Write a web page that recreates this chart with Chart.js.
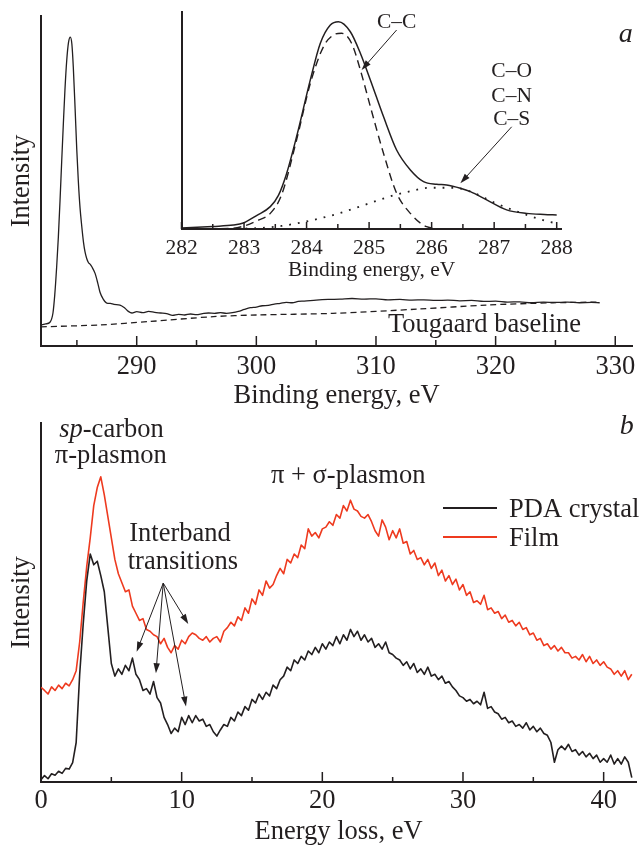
<!DOCTYPE html>
<html>
<head>
<meta charset="utf-8">
<script src="https://cdn.jsdelivr.net/npm/chart.js@4.4.1/dist/chart.umd.min.js"></script>
<style>
  body { margin: 0; background: #fff; }
  .panel { position: absolute; }
</style>
</head>
<body>
<div class="panel" style="left:0;top:0;width:642px;height:420px"><canvas id="mainChart"></canvas></div>
<div class="panel" style="left:140px;top:0;width:440px;height:290px"><canvas id="insetChart"></canvas></div>
<div class="panel" style="left:0;top:400px;width:642px;height:452px"><canvas id="lossChart"></canvas></div>
<script>
// Panel a: C 1s spectrum
const xpsEnergy = [282.0, 282.4, 282.75, 283.0, 283.15, 283.31, 283.45, 283.59, 283.73, 283.87, 284.0, 284.15, 284.3, 284.45, 284.58, 284.7, 284.85, 284.99, 285.12, 285.26, 285.4, 285.55, 285.68, 285.82, 285.96, 286.1, 286.25, 286.52, 286.75, 286.94, 287.2, 287.5, 287.8, 288.1, 288.6, 289.0, 289.3, 289.6, 290.0, 290.5, 291.0, 291.5, 292.0, 292.5, 293.0, 293.5, 294.0, 294.5, 295.0, 295.5, 296.0, 296.5, 297.0, 297.5, 298.0, 298.5, 299.0, 299.5, 300.0, 300.5, 301.0, 301.5, 302.0, 302.5, 303.0, 303.5, 304.0, 305.0, 306.0, 307.0, 308.0, 309.0, 310.0, 311.0, 312.0, 313.0, 314.0, 315.0, 316.0, 317.0, 318.0, 319.0, 320.0, 321.0, 322.0, 323.0, 324.0, 325.0, 326.0, 327.0, 328.0, 328.7];
const xpsIntensity = [6.4, 6.7, 7.2, 10, 15.5, 24, 33, 44, 56, 67.5, 77.5, 86.5, 92, 93.6, 91.5, 84.5, 72, 59.5, 50, 42, 36.5, 31.5, 28.5, 26.5, 25.3, 24.8, 24, 22, 19, 16.2, 14.2, 13, 12.9, 12.6, 12.4, 11.5, 10.5, 10, 10.4, 10.1, 10.5, 10.2, 10, 9.8, 9.3, 9.6, 9.4, 9.7, 9.5, 9.8, 10, 9.9, 10.1, 9.9, 10.1, 10.5, 11.1, 11.6, 11.8, 12.2, 12.3, 12.7, 12.9, 13.2, 13.1, 13.5, 13.6, 13.9, 14.1, 14.2, 14.4, 14.2, 14.3, 14.0, 14.1, 13.9, 14.0, 13.8, 13.9, 13.7, 13.8, 13.5, 13.6, 13.3, 13.4, 13.1, 13.3, 13.2, 13.3, 13.1, 13.2, 13.1];
const baselineEnergy = [282, 287, 291, 296.4, 300, 306.4, 313.6, 319.2, 324.8, 328.7];
const baselineIntensity = [5.8, 6.4, 7.4, 8.9, 9.4, 9.9, 11.2, 12.4, 13.1, 13.3];
const mainTicks = [285, 290, 295, 300, 305, 310, 315, 320, 325, 330];

// Inset: fit of the C 1s peak
const fitEnergy = [282.0, 282.5, 282.83, 283.0, 283.2, 283.42, 283.55, 283.68, 283.84, 284.06, 284.22, 284.38, 284.51, 284.7, 284.86, 285.02, 285.23, 285.44, 285.66, 285.87, 286.08, 286.24, 286.46, 286.62, 286.88, 287.2, 287.52, 287.8, 288.0];
const fitEnvelope = [0.5, 1.2, 1.8, 2.9, 6.2, 10.3, 15.5, 25.5, 42.5, 68.7, 85.6, 94, 95.5, 90.9, 81, 68.7, 51.8, 36.4, 27.2, 21.8, 20.6, 20.3, 18.8, 17.2, 13.4, 8.8, 7.2, 6.7, 6.5];
const ccEnergy = [282.0, 282.8, 283.0, 283.2, 283.42, 283.6, 283.84, 284.06, 284.27, 284.43, 284.56, 284.72, 284.86, 285.02, 285.23, 285.44, 285.66, 285.92, 286.24, 288.0];
const ccIntensity = [0, 0.3, 1.4, 3.7, 7.2, 15.7, 41, 67.1, 84, 89.4, 90.2, 85.6, 73.3, 56.4, 34.9, 16.5, 7.2, 1.1, 0, 0];
const coEnergy = [282.6, 283.0, 283.3, 283.6, 283.95, 284.48, 285.02, 285.3, 285.6, 285.98, 286.35, 286.6, 287.03, 287.42, 287.84, 288.0];
const coIntensity = [0, 0.2, 0.5, 1.4, 3.2, 6.9, 12, 14.7, 17, 19, 19, 17.5, 11.8, 7.5, 3.6, 2.6];
const insetTicks = [282, 282.5, 283, 283.5, 284, 284.5, 285, 285.5, 286, 286.5, 287, 287.5, 288];

// Panel b: energy loss spectra, one value every 0.25 eV from 0 to 42 eV
const lossStep = 0.25;
const crystalLoss = [
  0.6, 1.8, 0.9, 2.3, 1.9, 3.0, 2.4, 3.8,
  3.6, 5.4, 11, 30, 44, 56, 63.5, 60.5,
  61.5, 57.5, 53, 43, 33, 29.5, 31.5, 30,
  32.5, 31, 34.5, 30, 28.5, 25.5, 26, 24.5,
  28, 23.5, 22, 18, 16, 13.5, 15, 14,
  18, 16, 18.5, 16.5, 18.5, 17, 17.5, 15.5,
  16, 14, 12.8, 14.5, 16, 15.5, 18, 17,
  19.5, 18.5, 21, 20, 23, 22, 24.5, 23,
  25, 24, 27, 26, 28.5, 29.5, 32, 31,
  34, 33, 35, 34, 36.5, 35.5, 37.5, 36,
  38.5, 37, 39, 38, 40.5, 38.5, 41, 39.5,
  42.5, 40.5, 42, 39.5, 41, 39, 40, 37.5,
  38.5, 37, 39, 36, 35.5, 34.5, 34, 32.5,
  33.5, 31.5, 33, 30.5, 31.5, 30, 32, 29.5,
  30, 28.5, 29.5, 27.5, 28, 26.5, 25.5, 24,
  23.5, 22.5, 23, 21.8, 22.5, 21.5, 25, 20.5,
  21, 19.5, 19, 17.5, 18, 16.5, 17, 15.5,
  16, 15, 16.5, 14.5, 15.5, 14, 15, 13.5,
  13, 11, 5.5, 9, 10, 9, 10.5, 8.5,
  9, 7.5, 8.5, 7, 8, 6.5, 7.5, 5.5,
  6.5, 5.5, 7.5, 5, 6.5, 5, 7, 5.5,
  1.2
];
const filmLoss = [
  26.4, 25.5, 24.5, 26.5, 25.5, 27, 26, 27.5,
  26.8, 28.5, 31, 39, 50, 60, 68, 77,
  82, 85, 80, 74, 68, 62, 58, 55.5,
  53, 53.5, 49, 47, 45, 45.5, 42.5, 42,
  41, 40.5, 38.5, 40, 37.5, 36, 38, 37,
  39.5, 38.5, 40.5, 41.5, 41, 40, 39.5, 40.5,
  39, 40, 40.5, 39, 42, 43, 44.5, 43.5,
  46, 45, 48.5, 47, 51, 49.5, 53.5, 52,
  56, 54, 55, 57.5, 59.5, 58, 62, 61,
  63.5, 62.5, 66, 65, 70.5, 68.5, 69.5, 68,
  70.5, 71, 72.5, 71.5, 74.5, 73.5, 77, 75.5,
  78.5, 76, 75.5, 74, 73.5, 74.5, 72.5, 70,
  68.5, 73, 71, 67.5, 70, 68, 70.5, 66.5,
  67, 63.5, 64.5, 62, 62.5, 60.5, 62, 59.5,
  61, 57.5, 59, 56, 57.5, 55, 56.5, 53.5,
  55, 52, 53, 50, 50.5, 49.5, 52, 48,
  48.5, 47, 47.5, 45.5, 46.5, 44.5, 45, 43.5,
  44.5, 42.5, 43, 41, 41.5, 39.5, 40, 38,
  38.5, 37, 38, 36.5, 37.5, 36, 36, 34.5,
  35, 34, 35.5, 33.5, 35, 33, 34, 32.5,
  33.5, 32, 31.5, 30, 31, 29.5, 31, 28.5,
  30
];
const lossTicks = [0, 5, 10, 15, 20, 25, 30, 35, 40];

const serif = "'Liberation Serif', 'Times New Roman', serif";
const ink = '#231f20';
const red = '#ee3a1f';
const big = 26.5;
const small = 21.5;
Chart.defaults.font.family = serif;
Chart.defaults.color = ink;

const pts = (xs, ys) => xs.map((x, i) => ({ x, y: ys[i] }));
const lossEnergy = crystalLoss.map((_, i) => i * lossStep);

function axisX(min, max, ticks, showLabel, title, size, pad, titlePad, height) {
    return {
        type: 'linear', min, max,
        afterBuildTicks: s => { s.ticks = ticks.map(v => ({ value: v })); },
        afterFit: s => { s.height = height; },
        grid: { display: false, drawTicks: false },
        border: { display: true, color: ink, width: 2 },
        ticks: { padding: pad, font: { size }, color: ink, maxRotation: 0, autoSkip: false,
                 callback: v => showLabel(v) ? String(v) : '' },
        title: { display: true, text: title, font: { size }, color: ink, padding: { top: 0, bottom: titlePad } }
    };
}

function axisY(title, size, titlePad, width) {
    return {
        type: 'linear', min: 0, max: 100,
        afterFit: s => { s.width = width; },
        grid: { display: false, drawTicks: false },
        border: { display: true, color: ink, width: 2 },
        ticks: { display: false },
        title: { display: !!title, text: title || '', font: { size }, color: ink, padding: { top: titlePad, bottom: 0 } }
    };
}

// tick marks pointing into the plot
function tickMarks(major, minor, majorLen, minorLen) {
    return {
        id: 'tickMarks',
        afterDraw(chart) {
            const { ctx, chartArea, scales: { x } } = chart;
            ctx.save();
            ctx.strokeStyle = ink;
            ctx.lineWidth = 1.5;
            const mark = (v, len) => {
                const px = x.getPixelForValue(v);
                ctx.beginPath();
                ctx.moveTo(px, chartArea.bottom);
                ctx.lineTo(px, chartArea.bottom - len);
                ctx.stroke();
            };
            major.forEach(v => mark(v, majorLen));
            minor.forEach(v => mark(v, minorLen));
            ctx.restore();
        }
    };
}

function drawArrow(ctx, x1, y1, x2, y2) {
    const head = 10, half = 3.2;
    const a = Math.atan2(y2 - y1, x2 - x1);
    const c = Math.cos(a), s = Math.sin(a);
    ctx.beginPath();
    ctx.moveTo(x1, y1);
    ctx.lineTo(x2 - c * head * 0.7, y2 - s * head * 0.7);
    ctx.stroke();
    ctx.beginPath();
    ctx.moveTo(x2, y2);
    ctx.lineTo(x2 - c * head + s * half, y2 - s * head - c * half);
    ctx.lineTo(x2 - c * head - s * half, y2 - s * head + c * half);
    ctx.closePath();
    ctx.fill();
}

// texts and arrows placed in data coordinates
function annotate(texts, arrows) {
    return {
        id: 'annotate',
        afterDraw(chart) {
            const { ctx, scales: { x, y } } = chart;
            ctx.save();
            ctx.fillStyle = ink;
            ctx.strokeStyle = ink;
            ctx.textBaseline = 'alphabetic';
            ctx.textAlign = 'left';
            texts.forEach(t => {
                const parts = t.parts || [{ text: t.text, italic: t.italic }];
                const fonts = parts.map(p => (p.italic ? 'italic ' : '') + t.size + 'px ' + serif);
                let total = 0;
                parts.forEach((p, i) => { ctx.font = fonts[i]; total += ctx.measureText(p.text).width; });
                let cx = x.getPixelForValue(t.at[0]) - total / 2;
                const cy = y.getPixelForValue(t.at[1]);
                parts.forEach((p, i) => {
                    ctx.font = fonts[i];
                    ctx.fillText(p.text, cx, cy);
                    cx += ctx.measureText(p.text).width;
                });
            });
            ctx.lineWidth = 1;
            arrows.forEach(a => drawArrow(ctx,
                x.getPixelForValue(a.from[0]), y.getPixelForValue(a.from[1]),
                x.getPixelForValue(a.to[0]), y.getPixelForValue(a.to[1])));
            ctx.restore();
        }
    };
}

const lossLegend = {
    id: 'lossLegend',
    afterDraw(chart) {
        const { ctx } = chart;
        ctx.save();
        ctx.font = big + 'px ' + serif;
        ctx.textBaseline = 'alphabetic';
        ctx.textAlign = 'left';
        chart.data.datasets.forEach((ds, i) => {
            const ly = 108 + i * 29;
            ctx.strokeStyle = ds.borderColor;
            ctx.lineWidth = 2;
            ctx.beginPath();
            ctx.moveTo(443, ly);
            ctx.lineTo(497, ly);
            ctx.stroke();
            ctx.fillStyle = ink;
            ctx.fillText(ds.label, 509, ly + 9);
        });
        ctx.restore();
    }
};

const baseOptions = {
    responsive: true,
    maintainAspectRatio: false,
    animation: false,
    devicePixelRatio: 1,
    events: [],
    elements: { point: { radius: 0 }, line: { borderJoinStyle: 'round' } },
};

// PANEL A
new Chart(document.getElementById('mainChart'), {
    type: 'line',
    data: {
        datasets: [
            { label: 'Spectrum', data: pts(xpsEnergy, xpsIntensity), borderColor: ink, borderWidth: 1.3, cubicInterpolationMode: 'monotone' },
            { label: 'Tougaard baseline', data: pts(baselineEnergy, baselineIntensity), borderColor: ink, borderWidth: 1.3, borderDash: [6, 4], tension: 0.3 }
        ]
    },
    options: {
        ...baseOptions,
        layout: { padding: { top: 16, right: 10, left: 0, bottom: 0 } },
        scales: {
            x: axisX(282, 331.4, mainTicks, v => v % 10 === 0, 'Binding energy, eV', big, 5, 8, 74),
            y: axisY('Intensity', big, 6, 41)
        },
        plugins: { legend: { display: false }, tooltip: { enabled: false } }
    },
    plugins: [
        tickMarks(mainTicks.filter(v => v % 10 === 0), mainTicks.filter(v => v % 10 !== 0), 10, 6),
        annotate([
            { text: 'Tougaard baseline', at: [319.07, 4.3], size: big },
            { text: 'a', italic: true, at: [330.87, 92.2], size: 28 }
        ], [])
    ]
});

// INSET
new Chart(document.getElementById('insetChart'), {
    type: 'line',
    data: {
        datasets: [
            { label: 'Envelope', data: pts(fitEnergy, fitEnvelope), borderColor: ink, borderWidth: 1.5, cubicInterpolationMode: 'monotone' },
            { label: 'C–C', data: pts(ccEnergy, ccIntensity), borderColor: ink, borderWidth: 1.4, borderDash: [8, 5], cubicInterpolationMode: 'monotone' },
            { label: 'C–O', data: pts(coEnergy, coIntensity), borderColor: ink, borderWidth: 1.8, borderDash: [1.8, 7], cubicInterpolationMode: 'monotone' }
        ]
    },
    options: {
        ...baseOptions,
        layout: { padding: { top: 12, right: 18.3, left: 0, bottom: 0 } },
        scales: {
            x: axisX(282, 288.08, insetTicks, v => Number.isInteger(v), 'Binding energy, eV', small, 6, 7, 61),
            y: axisY('', small, 0, 41.5)
        },
        plugins: { legend: { display: false }, tooltip: { enabled: false } }
    },
    plugins: [
        tickMarks(insetTicks.filter(v => Number.isInteger(v)), insetTicks.filter(v => !Number.isInteger(v)), 7, 5),
        annotate([
            { text: 'C–C', at: [285.44, 92.6], size: small },
            { text: 'C–O', at: [287.28, 69.9], size: small },
            { text: 'C–N', at: [287.28, 58.7], size: small },
            { text: 'C–S', at: [287.28, 47.9], size: small }
        ], [
            { from: [285.44, 91.7], to: [284.88, 73.3] },
            { from: [287.28, 47.1], to: [286.46, 21.1] }
        ])
    ]
});

// PANEL B
new Chart(document.getElementById('lossChart'), {
    type: 'line',
    data: {
        datasets: [
            { label: 'PDA crystal', data: pts(lossEnergy, crystalLoss), borderColor: ink, borderWidth: 1.6 },
            { label: 'Film', data: pts(lossEnergy, filmLoss), borderColor: red, borderWidth: 1.6 }
        ]
    },
    options: {
        ...baseOptions,
        layout: { padding: { top: 23, right: 6, left: 0, bottom: 0 } },
        scales: {
            x: axisX(0, 42.3, lossTicks, v => v % 10 === 0, 'Energy loss, eV', big, 3, 4, 70),
            y: axisY('Intensity', big, 6, 41)
        },
        plugins: { legend: { display: false }, tooltip: { enabled: false } }
    },
    plugins: [
        tickMarks(lossTicks.filter(v => v % 10 === 0), lossTicks.filter(v => v % 10 !== 0), 10, 5),
        lossLegend,
        annotate([
            { parts: [{ text: 'sp', italic: true }, { text: '-carbon' }], at: [5.01, 96.2], size: big },
            { text: 'π-plasmon', at: [4.96, 88.8], size: big },
            { text: 'Interband', at: [9.88, 67.2], size: big },
            { text: 'transitions', at: [10.09, 59.2], size: big },
            { text: 'π + σ-plasmon', at: [21.84, 83.2], size: big },
            { text: 'b', italic: true, at: [41.65, 96.9], size: 28 }
        ], [
            { from: [8.69, 55.4], to: [6.80, 36.3] },
            { from: [8.69, 55.4], to: [8.17, 30.3] },
            { from: [8.69, 55.4], to: [10.31, 21.0] },
            { from: [8.69, 55.4], to: [10.47, 44.0] }
        ])
    ]
});
</script>
</body>
</html>
